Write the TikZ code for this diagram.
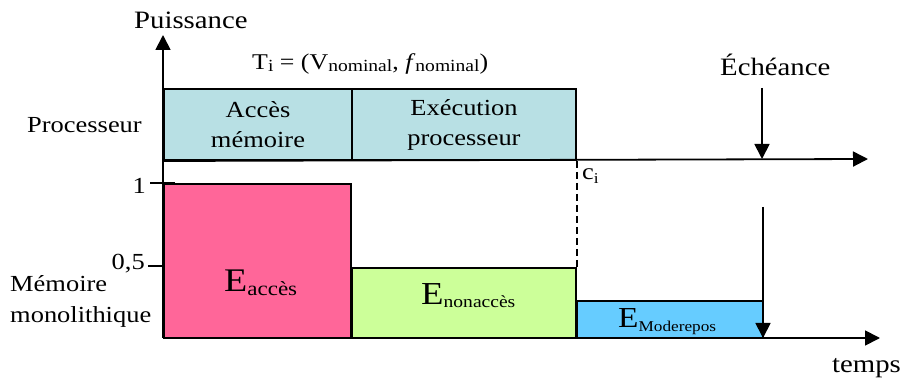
\documentclass[tikz,border=0pt]{standalone}
\usepackage{fontspec}
\setmainfont[FakeStretch=1.15]{Liberation Serif}
\usetikzlibrary{arrows.meta}
\definecolor{procc}{HTML}{B8E0E4}
\definecolor{pinkc}{HTML}{FF6699}
\definecolor{greenc}{HTML}{CCFF99}
\definecolor{bluec}{HTML}{66CCFF}
% #1 size, #2 lowering, #3 text
\newcommand\sbs[3]{\raisebox{-#2}{\fontsize{#1}{#1}\selectfont #3}}
\newcommand\fs[1]{\fontsize{#1}{31}\selectfont}
\begin{document}
\begin{tikzpicture}[x=1pt,y=-1pt,
  txt/.style={font=\fs{23}, inner sep=0pt, align=center, anchor=base west},
  bx/.style={draw=black, line width=2pt, anchor=north west, inner sep=0pt, align=center, font=\fontsize{23}{30}\selectfont},
  arr/.style={-{Triangle[length=15pt,width=15pt]}, line width=1.8pt},
  tick/.style={line width=1.8pt}]
\useasboundingbox (0,0) rectangle (903,382);
% memory boxes
\node[bx, fill=pinkc, minimum width=187pt, minimum height=154pt] (pink) at (163,183) {};
\node[bx, fill=greenc, minimum width=224pt, minimum height=70pt] (green) at (351,267) {};
\node[bx, fill=bluec, minimum width=186pt, minimum height=37pt] (blue) at (576,300) {};
% processor boxes
\node[bx, fill=procc, minimum width=188pt, minimum height=71pt] (acc) at (163,88) {Accès\\mémoire};
\node[bx, fill=procc, minimum width=224pt, minimum height=71pt] (exe) at (351,88) {Exécution\\processeur};
% axes
\coordinate (O) at (163,338);
\coordinate (ytop) at (163,35);
\coordinate (tup) at (868,159);
\coordinate (tlow) at (880,338);
\draw[arr] (O) -- (ytop);
\draw[arr] (acc.south west) -- (tup);
\draw[arr] (O) -- (tlow);
% dashed c_i
\draw[line width=1.6pt, dash pattern=on 7pt off 4pt] (exe.south east) -- (green.north east);
% deadline arrows
\coordinate (e1) at (762,88);
\coordinate (e2) at (762,159);
\draw[arr] (e1) -- (e2);
\coordinate (e3) at (763,207);
\coordinate (e4) at (763,338);
\draw[arr] (e3) -- (e4);
% ticks
\coordinate (t1a) at (150,183);
\coordinate (t1b) at (175,183);
\draw[tick] (t1a) -- (t1b);
\coordinate (t5a) at (148,266);
\coordinate (t5b) at (163,266);
\draw[tick] (t5a) -- (t5b);
% labels
\node[txt, font=\fs{25}] (puis) at (134,29) {Puissance};
\node[txt, font=\fs{22.5}] (ti) at (252,70) {T\sbs{17}{1.5pt}{i} = (V\sbs{17}{1.5pt}{nominal}, \textit{f}\sbs{17}{1.5pt}{nominal})};
\node[txt] (proc) at (27,133) {Processeur};
\node[txt, font=\fs{25}] (ech) at (720,76) {Échéance};
\node[txt] (ci) at (582,180) {c\sbs{15}{4pt}{i}};
\node[txt, anchor=base east] (one) at (146,194) {1};
\node[txt, anchor=base east] (half) at (145,270) {0,5};
\node[txt, align=left] (mem) at (10,323) {Mémoire\\monolithique};
\node[txt, font=\fs{33}] (lacc) at (224,292) {E\sbs{20}{4pt}{accès}};
\node[txt, font=\fs{32}] (lnon) at (421,305) {E\sbs{17}{3pt}{nonaccès}};
\node[txt, font=\fs{29}] (lmod) at (618,327) {E\sbs{15}{4pt}{Moderepos}};
\node[txt, font=\fs{25}] (temps) at (832,372) {temps};
\end{tikzpicture}
\end{document}
